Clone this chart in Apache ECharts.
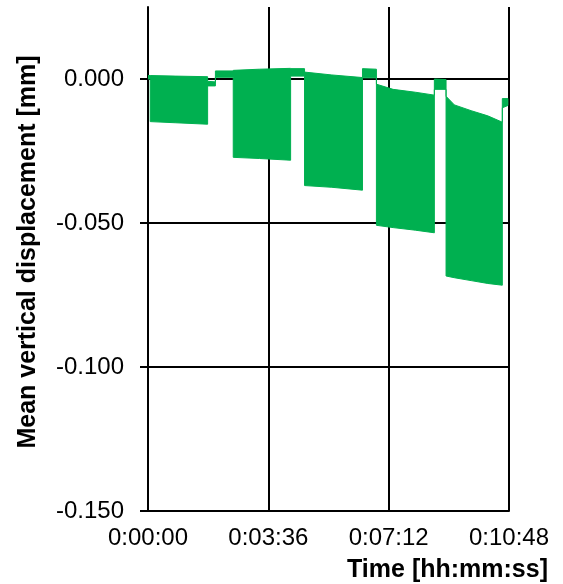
<!DOCTYPE html>
<html>
<head>
<meta charset="utf-8">
<script src="https://cdn.jsdelivr.net/npm/echarts@6/dist/echarts.min.js"></script>
<style>
  html, body { margin: 0; padding: 0; background: #fff; }
  #chart { width: 563px; height: 584px; }
</style>
</head>
<body>
<div id="chart"></div>
<script>
// Envelope of the displacement signal: elapsed time [s], upper and lower bound [mm].
// Repeated times mark the steps between loading blocks and rest periods.
const timeSec = [0, 4, 4, 50, 107, 107, 121, 121, 153, 153, 200, 256, 256, 281, 281, 330, 385,
                 385, 410, 410, 440, 480, 514, 514, 535, 535, 550, 580, 610, 636, 636, 646];
const upperMm = [0.0012, 0.0012, 0.0012, 0.0010, 0.0008, -0.0008, -0.0010, 0.0028, 0.0028,
                 0.0030, 0.0034, 0.0037, 0.0036, 0.0036, 0.0024, 0.0014, 0.0005,
                 0.0036, 0.0034, -0.0018, -0.0036, -0.0046, -0.0056, 0.0000, -0.0002,
                 -0.0060, -0.0090, -0.0110, -0.0128, -0.0150, -0.0068, -0.0068];
const lowerMm = [0.0000, 0.0000, -0.0148, -0.0152, -0.0157, -0.0024, -0.0024, 0.0006, 0.0006,
                 -0.0272, -0.0276, -0.0282, 0.0010, 0.0010, -0.0370, -0.0376, -0.0386,
                 0.0004, 0.0004, -0.0508, -0.0516, -0.0525, -0.0534, -0.0036, -0.0036,
                 -0.0684, -0.0690, -0.0700, -0.0710, -0.0716, -0.0100, -0.0092];

// Axis ticks
const timeTicksSec = [0, 216, 432, 648];
const dispTicksMm = [-0.15, -0.1, -0.05, 0];

const FONT = '"Liberation Sans", Arial, Helvetica, sans-serif';

function hms(sec) {
  const h = Math.floor(sec / 3600);
  const m = Math.floor((sec % 3600) / 60);
  const s = Math.round(sec % 60);
  return h + ':' + String(m).padStart(2, '0') + ':' + String(s).padStart(2, '0');
}

function fixed3(v) {
  const r = Math.round(v * 1000) / 1000;
  return (Math.abs(r) < 1e-9 ? 0 : r).toFixed(3);
}

const chart = echarts.init(document.getElementById('chart'), null, { renderer: 'canvas' });

chart.setOption({
  animation: false,
  backgroundColor: '#fff',
  grid: { left: 148, right: 54, top: 7, bottom: 73, containLabel: false, outerBoundsMode: 'none' },
  xAxis: {
    type: 'value',
    min: timeTicksSec[0],
    max: timeTicksSec[timeTicksSec.length - 1],
    interval: 216,
    axisLine: { show: true, onZero: false, lineStyle: { color: '#000', width: 2 } },
    axisTick: { show: false },
    axisLabel: {
      show: true, margin: 15, color: '#000', fontFamily: FONT, fontSize: 24,
      formatter: v => hms(v), hideOverlap: false
    },
    splitLine: { show: true, showMinLine: true, showMaxLine: true, lineStyle: { color: '#000', width: 2 } }
  },
  yAxis: {
    type: 'value',
    min: -0.15,
    max: 0.025,
    interval: 0.05,
    axisLine: { show: true, onZero: false, lineStyle: { color: '#000', width: 2 } },
    axisTick: { show: true, inside: false, length: 8, customValues: dispTicksMm, lineStyle: { color: '#000', width: 2 } },
    axisLabel: {
      show: true, margin: 24, color: '#000', fontFamily: FONT, fontSize: 24,
      customValues: dispTicksMm,
      formatter: v => fixed3(v), hideOverlap: false
    },
    splitLine: { show: true, showMinLine: true, showMaxLine: true, lineStyle: { color: '#000', width: 2 } }
  },
  series: [{
    type: 'custom',
    coordinateSystem: 'cartesian2d',
    encode: { x: 0, y: [1, 2] },
    data: timeSec.map((t, i) => [t, upperMm[i], lowerMm[i]]),
    clip: true,
    z: 5,
    renderItem: function (params, api) {
      if (params.dataIndex !== 0) return null;
      const top = timeSec.map((t, i) => api.coord([t, upperMm[i]]));
      const bottom = timeSec.map((t, i) => api.coord([t, lowerMm[i]])).reverse();
      return {
        type: 'polygon',
        shape: { points: top.concat(bottom) },
        style: { fill: '#00B050', stroke: '#00B050', lineWidth: 1 }
      };
    }
  }],
  graphic: [
    {
      type: 'text',
      x: 28, y: 252,
      rotation: Math.PI / 2,
      style: {
        text: 'Mean vertical displacement [mm]',
        font: 'bold 25px ' + FONT,
        fill: '#000',
        align: 'center',
        verticalAlign: 'middle'
      }
    },
    {
      type: 'text',
      x: 548, y: 570,
      style: {
        text: 'Time [hh:mm:ss]',
        font: 'bold 25px ' + FONT,
        fill: '#000',
        align: 'right',
        verticalAlign: 'middle'
      }
    }
  ]
});
</script>
</body>
</html>
